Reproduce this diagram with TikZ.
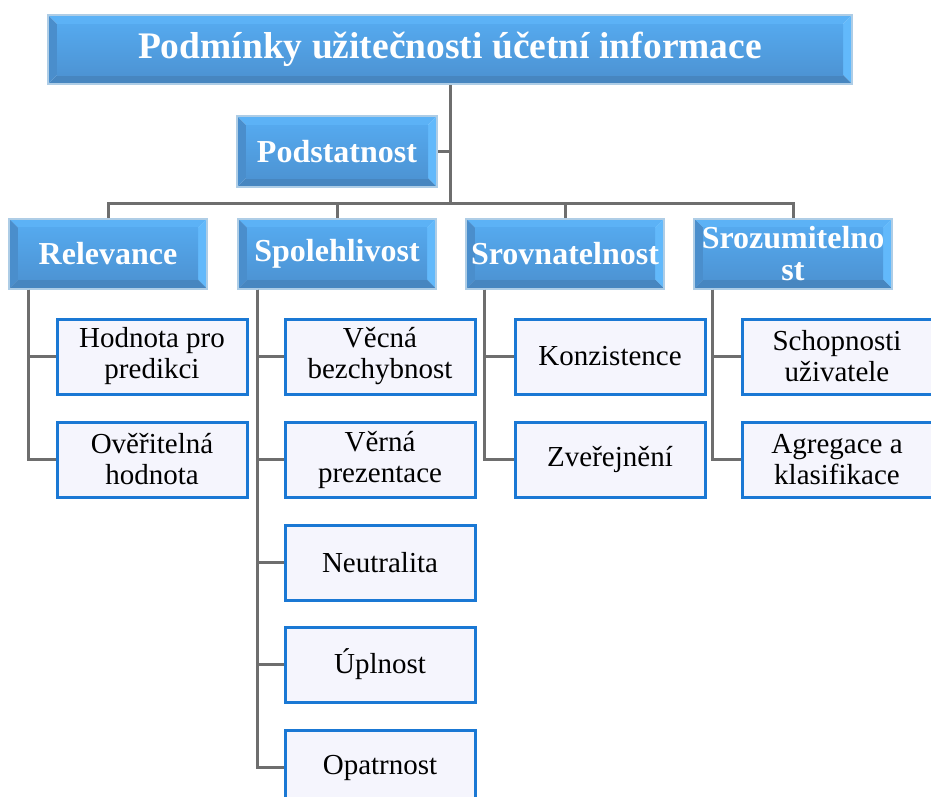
\documentclass[tikz,border=0pt]{standalone}
\usepackage{fontspec}
\setmainfont{Liberation Serif}
\usetikzlibrary{calc}
\definecolor{bvtop}{HTML}{5CB2F6}
\definecolor{bvright}{HTML}{62B9FB}
\definecolor{bvbottom}{HTML}{4786C0}
\definecolor{bvleft}{HTML}{4A8ECC}
\definecolor{bvfaceT}{HTML}{55A9EE}
\definecolor{bvfaceB}{HTML}{4D94D4}
\definecolor{bvedge}{HTML}{AECDE6}
\definecolor{connc}{HTML}{6E6E6E}
\definecolor{leafborder}{HTML}{1A78D4}
\definecolor{leaffill}{HTML}{F5F5FD}
\tikzset{
  bevel/.style={rectangle, inner sep=0pt, text=white, align=center,
    draw=bvedge, line width=2pt,
    path picture={
      \fill[bvtop] (path picture bounding box.north west) -- (path picture bounding box.north east)
        -- ([shift={(-9pt,-9pt)}]path picture bounding box.north east)
        -- ([shift={(9pt,-9pt)}]path picture bounding box.north west) -- cycle;
      \fill[bvright] (path picture bounding box.north east) -- (path picture bounding box.south east)
        -- ([shift={(-9pt,9pt)}]path picture bounding box.south east)
        -- ([shift={(-9pt,-9pt)}]path picture bounding box.north east) -- cycle;
      \fill[bvbottom] (path picture bounding box.south west) -- (path picture bounding box.south east)
        -- ([shift={(-9pt,9pt)}]path picture bounding box.south east)
        -- ([shift={(9pt,9pt)}]path picture bounding box.south west) -- cycle;
      \fill[bvleft] (path picture bounding box.north west) -- (path picture bounding box.south west)
        -- ([shift={(9pt,9pt)}]path picture bounding box.south west)
        -- ([shift={(9pt,-9pt)}]path picture bounding box.north west) -- cycle;
      \shade[top color=bvfaceT, bottom color=bvfaceB]
        ([shift={(9pt,-9pt)}]path picture bounding box.north west) rectangle
        ([shift={(-9pt,9pt)}]path picture bounding box.south east);
    }},
  titlebox/.style={bevel, minimum width=804pt, minimum height=69pt,
    font=\bfseries\fontsize{37.5}{40}\selectfont},
  catbox/.style={bevel, minimum width=198pt, minimum height=70pt,
    font=\bfseries\fontsize{32}{32}\selectfont},
  leaf/.style={rectangle, inner sep=0pt, draw=leafborder, fill=leaffill, line width=3pt,
    minimum width=190pt, minimum height=75pt, align=center,
    font=\fontsize{29}{31}\selectfont},
  conn/.style={draw=connc, line width=3pt},
}
\begin{document}
\begin{tikzpicture}[x=1pt, y=-1pt]
\useasboundingbox (0,0) rectangle (931,796);

\node[titlebox] (title) at (450,49.5) {Podmínky užitečnosti účetní informace};
\node[catbox, minimum width=200pt, minimum height=71pt] (pod) at (337,151.5) {Podstatnost};

\node[catbox] (rel) at (108,253.5) {Relevance};
\node[catbox] (spo) at (337,253.5) {Spolehlivost};
\node[catbox] (srv) at (565,253.5) {Srovnatelnost};
\node[catbox] (srz) at (793,253.5) {Srozumitelno\\st};

\node[leaf] (r1) at (152,356.5) {Hodnota pro\\predikci};
\node[leaf] (r2) at (152,459.5) {Ověřitelná\\hodnota};

\node[leaf] (s1) at (380,356.5) {Věcná\\bezchybnost};
\node[leaf] (s2) at (380,459.5) {Věrná\\prezentace};
\node[leaf] (s3) at (380,562.5) {Neutralita};
\node[leaf] (s4) at (380,664.5) {Úplnost};
\node[leaf] (s5) at (380,767.5) {Opatrnost};

\node[leaf] (v1) at (610,356.5) {Konzistence};
\node[leaf] (v2) at (610,459.5) {Zveřejnění};

\node[leaf] (z1) at (837,356.5) {Schopnosti\\uživatele};
\node[leaf] (z2) at (837,459.5) {Agregace a\\klasifikace};

\coordinate (bus) at (450,203);

\draw[conn] (title.south) -- (bus);
\draw[conn] (pod.east) -- (pod.east -| bus);
\draw[conn] (rel.north) -- (rel.north |- bus) -- (srz.north |- bus) -- (srz.north);
\draw[conn] (spo.north) -- (spo.north |- bus);
\draw[conn] (srv.north) -- (srv.north |- bus);

\draw[conn] ([xshift=20pt]rel.south west) |- (r1.west);
\draw[conn] ([xshift=20pt]rel.south west) |- (r2.west);

\draw[conn] ([xshift=20pt]spo.south west) |- (s1.west);
\draw[conn] ([xshift=20pt]spo.south west) |- (s2.west);
\draw[conn] ([xshift=20pt]spo.south west) |- (s3.west);
\draw[conn] ([xshift=20pt]spo.south west) |- (s4.west);
\draw[conn] ([xshift=20pt]spo.south west) |- (s5.west);

\draw[conn] ([xshift=19pt]srv.south west) |- (v1.west);
\draw[conn] ([xshift=19pt]srv.south west) |- (v2.west);

\draw[conn] ([xshift=19pt]srz.south west) |- (z1.west);
\draw[conn] ([xshift=19pt]srz.south west) |- (z2.west);
\end{tikzpicture}
\end{document}
